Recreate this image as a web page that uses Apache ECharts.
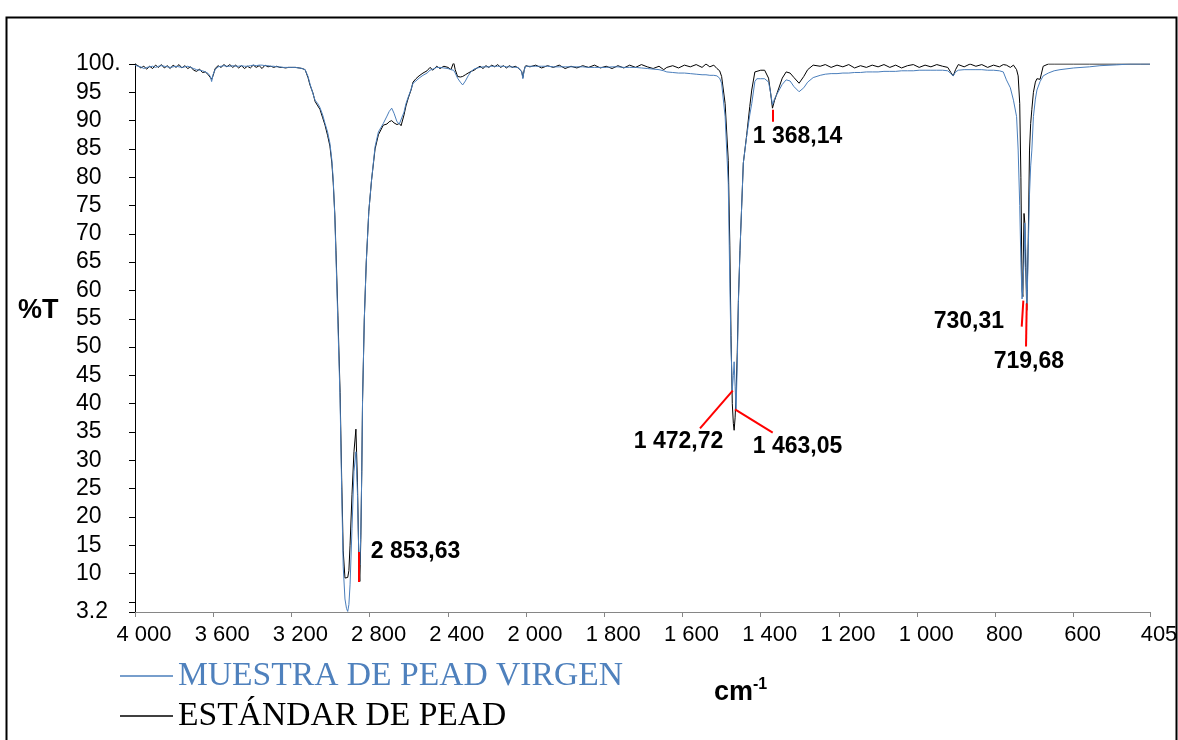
<!DOCTYPE html>
<html><head><meta charset="utf-8">
<script src="https://cdn.jsdelivr.net/npm/echarts@6/dist/echarts.min.js"></script>
<style>html,body{margin:0;padding:0;background:#fff}#c{width:1178px;height:740px}</style>
</head><body><div id="c"></div>
<script>
// ---- data (wavenumber cm-1, %T) ----
const wavenumbers = [4000,3985,3970,3955,3940,3925,3910,3895,3880,3865,3850,3835,3820,3805,3790,3775,3760,3745,3730,3715,3700,3685,3670,3655,3640,3625,3615,3608,3600,3590,3575,3560,3545,3530,3515,3500,3485,3470,3455,3440,3425,3410,3395,3380,3365,3350,3335,3320,3305,3290,3275,3260,3245,3230,3215,3200,3180,3160,3145,3130,3115,3105,3090,3079,3065,3054,3040,3028,3015,3003,2993,2986,2978,2972,2962,2951,2943,2935,2926,2918,2912,2906,2900,2890,2880,2870,2862,2855,2850,2845,2840,2836,2827,2817,2804,2790,2772,2755,2730,2711,2700,2687,2675,2660,2648,2639,2624,2614,2602,2588,2578,2563,2547,2527,2506,2491,2476,2457,2440,2420,2399,2384,2370,2362,2350,2336,2324,2310,2296,2280,2266,2250,2235,2220,2205,2190,2175,2160,2145,2130,2115,2100,2085,2070,2055,2040,2030,2022,2016,2010,2004,2000,
1990,1975,1960,1945,1930,1915,1900,1885,1870,1855,1840,1825,1810,1795,1780,1765,1750,1735,1720,1705,1690,1675,1660,1648,1640,1625,1610,1595,1580,1565,1550,1540,1530,1520,1512,1505,1500,1491,1483,1479,1476,1472.7,1470,1468,1465.5,1463,1460,1457,1453,1444.5,1436,1428,1423,1415,1410,1400,1390,1385,1380,1375,1370,1368,1365,1360,1355,1345,1335,1325,1315,1302,1290,1280,1266,1248,1235,1220,1205,1190,1175,1160,1145,1130,1115,1100,1085,1070,1055,1040,1025,1010,995,980,965,950,935,922,914,908,902,895,880,865,850,835,820,805,790,780,772,762,754,746,742,738,735,732,730,727,725,722.5,720,718.5,716,713,710,707,703,698,694,686,678,665,650,635,600,560,533,490,456,430,405];
const muestra = [99.8,99.6,99.5,99.2,99.4,99.5,99.6,99.4,99.6,99.7,99.6,99.5,99.4,99.5,99.6,99.5,99.4,99.5,99.6,99.4,99.2,99.0,98.9,98.8,98.6,98.3,97.8,96.9,98.2,99.0,99.5,99.6,99.7,99.6,99.6,99.7,99.6,99.6,99.7,99.6,99.6,99.7,99.8,99.7,99.8,99.8,99.7,99.7,99.6,99.6,99.5,99.5,99.4,99.4,99.4,99.4,99.4,99.3,99.2,99.0,97.8,96.5,94.8,93.6,93.0,92.3,91.0,89.5,88.0,86.0,83.0,79.5,73.0,66.0,54.0,40.6,25.0,11.2,5.5,3.8,3.3,4.5,8.0,18.0,28.0,31.5,24.0,13.0,11.5,17.0,28.0,40.6,55.0,65.0,74.0,79.5,85.4,88.0,89.5,90.8,91.6,92.2,91.3,89.8,89.4,89.6,91.5,93.0,94.2,95.5,96.6,97.0,97.5,98.0,98.4,98.9,99.1,99.4,99.4,99.3,99.2,99.0,98.9,98.4,97.5,96.8,96.3,97.0,97.9,98.7,99.1,99.3,99.4,99.5,99.5,99.5,99.6,99.6,99.6,99.6,99.6,99.5,99.5,99.5,99.4,99.4,99.2,98.6,97.4,98.8,99.5,99.6,
99.6,99.6,99.6,99.6,99.5,99.5,99.5,99.5,99.5,99.5,99.4,99.4,99.4,99.4,99.5,99.5,99.4,99.4,99.4,99.3,99.2,99.1,99.0,98.8,98.6,98.5,98.4,98.4,98.3,98.2,98.1,98.1,98.0,98.0,97.9,97.5,96.6,90.7,78.9,61.3,50.0,42.4,45.0,47.4,43.0,39.0,47.0,58.0,67.1,82.5,87.2,91.0,93.0,96.9,97.4,97.4,97.4,97.3,96.8,95.0,92.8,92.6,93.8,94.5,94.8,96.4,97.2,97.0,96.0,95.1,95.8,96.8,97.6,98.0,98.2,98.3,98.3,98.4,98.4,98.5,98.5,98.6,98.6,98.6,98.7,98.7,98.7,98.8,98.8,98.8,98.9,98.9,98.9,98.9,98.9,98.8,98.3,97.9,98.6,98.9,99.0,99.0,99.0,99.0,98.9,98.9,98.8,98.6,97.2,95.8,93.6,90.7,84.8,75.0,65.0,58.5,58.2,65.0,71.9,67.0,57.7,60.0,68.0,77.0,82.0,84.8,90.7,93.8,95.4,96.9,97.9,98.4,98.8,99.0,99.3,99.5,99.7,99.85,100,100,100];
const estandar = [100.0,99.7,99.3,99.6,99.1,99.6,99.2,99.8,99.4,99.9,99.3,99.7,99.2,99.8,99.4,99.9,99.3,99.7,99.2,99.5,98.9,98.7,99.1,98.5,98.6,98.1,97.9,97.3,98.0,99.2,99.7,99.4,99.9,99.5,99.9,99.4,99.8,99.3,99.7,99.2,99.6,99.3,99.8,99.4,99.7,99.2,99.8,99.5,99.6,99.4,99.6,99.4,99.4,99.3,99.4,99.4,99.4,99.3,99.2,99.0,97.6,96.3,94.9,93.4,92.6,92.0,90.5,89.2,87.4,85.5,82.5,79.0,73.5,67.0,55.5,42.0,27.0,14.0,9.2,9.0,9.3,10.5,15.0,24.0,31.5,35.5,26.0,12.0,8.6,16.0,28.0,40.6,55.0,65.0,74.0,79.5,85.0,87.5,89.2,89.4,89.8,90.0,89.6,89.3,89.5,89.1,91.0,92.6,94.0,95.4,96.8,97.4,97.9,98.4,98.8,99.4,98.9,99.6,99.2,99.6,99.4,99.0,100.3,99.0,97.8,97.7,97.8,98.1,98.4,98.7,98.9,99.3,99.6,99.2,99.7,99.4,99.8,99.5,99.9,99.4,99.7,99.3,99.7,99.4,99.6,99.3,99.2,98.7,97.6,98.8,99.6,99.7,
99.5,99.8,99.3,99.7,99.4,99.8,99.2,99.6,99.3,99.7,99.4,99.8,99.3,99.6,99.2,99.7,99.3,99.8,99.4,99.9,99.5,99.2,99.6,99.0,99.4,99.7,99.3,99.8,99.5,99.9,99.4,100.0,99.5,99.8,99.2,98.8,97.8,93.0,83.0,68.0,52.0,40.0,36.5,35.3,37.5,42.0,49.0,58.5,67.1,82.5,87.4,92.5,95.4,98.6,98.9,98.9,98.9,98.9,97.5,95.0,92.2,91.9,93.5,94.5,94.8,97.5,98.6,98.4,97.6,96.6,97.8,99.0,99.8,99.6,99.9,99.4,99.8,99.5,99.9,99.3,99.7,99.4,99.8,99.5,99.9,99.4,99.8,99.3,99.7,99.9,99.4,99.8,99.5,99.9,99.6,99.4,98.5,97.9,99.0,99.9,99.5,100.0,99.6,99.9,99.4,99.8,99.5,99.9,99.8,99.4,99.8,99.0,97.9,93.0,80.0,60.0,58.9,73.6,72.0,64.0,56.5,61.0,70.0,84.8,89.5,92.0,95.0,96.8,97.4,97.3,99.6,100,100,100,100,100,100,100,100,100,100];

const seriesNames = ['MUESTRA DE PEAD VIRGEN', 'ESTÁNDAR DE PEAD'];
const xTicksHigh = [4000, 3600, 3200, 2800, 2400];
const xTicksLow = [2000, 1800, 1600, 1400, 1200, 1000, 800, 600, 405];
const yTicks = [3.2, 5, 10, 15, 20, 25, 30, 35, 40, 45, 50, 55, 60, 65, 70, 75, 80, 85, 90, 95, 100];
const yLabels = [3.2, 10, 15, 20, 25, 30, 35, 40, 45, 50, 55, 60, 65, 70, 75, 80, 85, 90, 95, 100];
const peakNames = ['2 853,63', '1 368,14', '1 472,72', '1 463,05', '730,31', '719,68'];
const peakLines = [
  [[2853.63, 8.5], [2853.63, 13.8]],
  [[1368.14, 91.9], [1368.14, 89.8]],
  [[1555.2, 35.65], [1471.6, 42.3]],
  [[1465.8, 39.0], [1369.4, 34.9]],
  [[728.8, 58.2], [732.9, 53.6]],
  [[720.1, 57.7], [721.9, 50.1]]
];
const peakText = [[2794, 13.8], [1420.5, 87.2], [1495.7, 33.3], [1420.5, 32.4], [778.1, 54.5], [714.5, 47.4]];
const peakAlign = ['left', 'left', 'right', 'left', 'right', 'center'];

// ---- build ----
const colors = ['#4a7ebb', '#000000'];
const fmtW = v => v >= 1000 ? Math.floor(v / 1000) + ' ' + String(v % 1000).padStart(3, '0') : String(v);
function part(values, hi) {
  const out = [];
  wavenumbers.forEach((w, i) => { if (hi ? w >= 2000 : w <= 2000) out.push([w, values[i]]); });
  return out;
}
function marks(hi) {
  const lines = [], pts = [];
  peakLines.forEach((l, i) => {
    if ((l[0][0] >= 2000) === hi) {
      lines.push([{ coord: l[0] }, { coord: l[1] }]);
      pts.push({ name: peakNames[i], coord: peakText[i], label: { align: peakAlign[i] } });
    }
  });
  return {
    markLine: { silent: true, symbol: ['none', 'none'], label: { show: false },
      lineStyle: { color: '#ff0000', width: 2, type: 'solid' }, data: lines, animation: false },
    markPoint: { silent: true, symbol: 'circle', symbolSize: 1, itemStyle: { color: 'rgba(0,0,0,0)' },
      label: { show: true, position: 'inside', formatter: p => p.name, fontFamily: 'Liberation Sans',
        fontWeight: 'bold', fontSize: 23, color: '#000', verticalAlign: 'middle' },
      data: pts, animation: false }
  };
}
const series = [];
[1, 0].forEach(si => {
  [true, false].forEach(hi => {
    const s = {
      type: 'line', name: seriesNames[si], xAxisIndex: hi ? 0 : 1, yAxisIndex: hi ? 0 : 1,
      data: part(si === 0 ? muestra : estandar, hi), showSymbol: false, symbol: 'none',
      lineStyle: { color: colors[si], width: 1 }, itemStyle: { color: colors[si] },
      animation: false, silent: true, z: si === 0 ? 3 : 2
    };
    if (si === 1) Object.assign(s, marks(hi));
    series.push(s);
  });
});
const labelFont = { fontFamily: 'Liberation Sans', color: '#000' };
function xAxis(gi, lo, hiV, ticks) {
  return {
    type: 'value', gridIndex: gi, min: lo, max: hiV, inverse: true,
    axisLine: { show: true, lineStyle: { color: '#868686', width: 1 } },
    axisTick: { show: true, length: 5, lineStyle: { color: '#868686' }, customValues: ticks },
    axisLabel: Object.assign({ customValues: ticks, formatter: fmtW, margin: 12, padding: [0, 0, 0, 18], fontSize: 22 }, labelFont),
    splitLine: { show: false }
  };
}
function yAxis(gi, show) {
  return {
    type: 'value', gridIndex: gi, min: 3.2, max: 100, show: show,
    axisLine: { show: true, lineStyle: { color: '#000', width: 1 } },
    axisTick: { show: true, length: 6, lineStyle: { color: '#000' }, customValues: yTicks },
    axisLabel: Object.assign({ customValues: yLabels, align: 'left', margin: 59, fontSize: 23,
      formatter: v => v === 100 ? '100.' : String(v) }, labelFont),
    splitLine: { show: false }
  };
}
function legendFor(i, top) {
  return {
    orient: 'vertical', left: 120, top: top, padding: 0, itemWidth: 53, itemHeight: 1.5, icon: 'rect',
    selectedMode: false,
    textStyle: { fontFamily: 'Liberation Serif', fontSize: 33.6, lineHeight: 34 },
    data: [{ name: seriesNames[i], textStyle: { color: i === 0 ? '#4f81bd' : '#000' } }]
  };
}
const chart = echarts.init(document.getElementById('c'), null, { renderer: 'canvas' });
chart.setOption({
  backgroundColor: '#fff',
  animation: false,
  grid: [
    { left: 135, width: 391, top: 64, height: 548, containLabel: false, outerBoundsMode: 'none' },
    { left: 526, width: 624, top: 64, height: 548, containLabel: false, outerBoundsMode: 'none' }
  ],
  xAxis: [xAxis(0, 2000, 4000, xTicksHigh), xAxis(1, 405, 2000, xTicksLow)],
  yAxis: [yAxis(0, true), yAxis(1, false)],
  legend: [legendFor(0, 659), legendFor(1, 699)],
  title: [
    { text: '%T', left: 18, top: 297, padding: 0, textStyle: { fontFamily: 'Liberation Sans', fontWeight: 'bold', fontSize: 27, color: '#000' } },
    { text: '{a|cm}{b|-1}', left: 714, top: 677, padding: 0, textStyle: { rich: {
      a: { fontFamily: 'Liberation Sans', fontWeight: 'bold', fontSize: 27, color: '#000', verticalAlign: 'bottom' },
      b: { fontFamily: 'Liberation Sans', fontWeight: 'bold', fontSize: 16, color: '#000', verticalAlign: 'top', padding: [0, 0, 13, 0] } } } }
  ],
  graphic: [
    { type: 'rect', left: 4, top: 15, shape: { width: 1170, height: 740 }, style: { fill: 'none', stroke: '#000', lineWidth: 2 }, silent: true }
  ],
  series: series
});
</script></body></html>
